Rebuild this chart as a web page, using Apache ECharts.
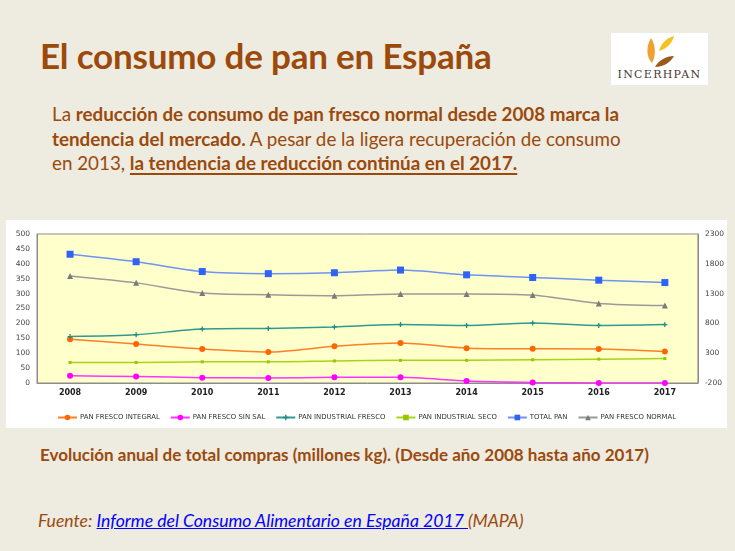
<!DOCTYPE html>
<html>
<head>
<meta charset="UTF-8">
<title>El consumo de pan en España</title>
<script src="https://cdn.jsdelivr.net/npm/echarts@6/dist/echarts.min.js"></script>
<style>
  html, body { margin: 0; padding: 0; }
  body {
    width: 735px; height: 551px; overflow: hidden; position: relative;
    background: #EEEBE1; font-family: Lato, "Open Sans", sans-serif; color: #9B4A0C;
  }
  .titulo {
    position: absolute; left: 40px; top: 34px; margin: 0;
    font-size: 35px; font-weight: bold; white-space: nowrap; letter-spacing: -0.2px;
  }
  .texto {
    position: absolute; left: 52px; top: 102px; margin: 0;
    font-size: 18.8px; line-height: 24.5px; white-space: nowrap;
  }
  .texto b { font-weight: bold; }
  .texto u { text-decoration-thickness: 1.5px; text-underline-offset: 3px; }
  .logo {
    position: absolute; left: 611px; top: 33px; width: 97px; height: 52px; background: #fff;
  }
  .logo span {
    position: absolute; left: 0; width: 97px; top: 35px; text-align: center;
    font-family: "DejaVu Serif", "Liberation Serif", serif; font-size: 11px; letter-spacing: 1.3px; color: #4a3b32;
  }
  #grafico {
    position: absolute; left: 6px; top: 220px; width: 721px; height: 208px; background: #fff;
  }
  .pie {
    position: absolute; left: 40px; top: 444px; margin: 0;
    font-size: 17px; font-weight: bold; white-space: nowrap;
  }
  .fuente {
    position: absolute; left: 38px; top: 510px; margin: 0;
    font-size: 17.6px; font-style: italic; white-space: nowrap;
  }
  .fuente a { color: #0000FF; }
</style>
</head>
<body>
  <h1 class="titulo">El consumo de pan en España</h1>
  <div class="logo">
    <svg width="97" height="36" viewBox="0 0 97 36">
      <path d="M41,30 C35,24 35,13 40,5 C45,12 45,23 41,30 Z" fill="#F0A030"/>
      <path d="M48,18 C50,10 56,5 63,3 C61,11 55,16 48,18 Z" fill="#F2C21E"/>
      <path d="M44,34 C48,27 55,23 63,23 C59,30 52,34 44,34 Z" fill="#9A5A1E"/>
    </svg>
    <span>INCERHPAN</span>
  </div>
  <p class="texto">La <b>reducción de consumo de pan fresco normal desde 2008 marca la</b><br><b>tendencia del mercado.</b> A pesar de la ligera recuperación de consumo<br>en 2013, <b><u>la tendencia de reducción continúa en el 2017.</u></b></p>
  <div id="grafico"></div>
  <p class="pie">Evolución anual de total compras (millones kg). (Desde año 2008 hasta año 2017)</p>
  <p class="fuente">Fuente: <a href="#">Informe del Consumo Alimentario en España 2017 </a>(MAPA)</p>

<script type="text/javascript">
  // datos (millones kg)
  var anios = ['2008', '2009', '2010', '2011', '2012', '2013', '2014', '2015', '2016', '2017'];
  var frescoIntegral = [147, 131, 114, 104, 123, 134, 117, 115, 114, 106];
  var frescoSinSal = [24, 22, 18, 17, 19, 19, 7, 2, 0, 0];
  var industrialFresco = [156, 162, 181, 183, 188, 196, 193, 201, 193, 196];
  var industrialSeco = [69, 69, 71, 71, 74, 76, 76, 78, 80, 82];
  // eje derecho
  var totalPan = [1960, 1835, 1670, 1635, 1650, 1695, 1615, 1570, 1525, 1485];
  var frescoNormal = [1595, 1480, 1310, 1280, 1265, 1295, 1295, 1275, 1135, 1100];
  var ticksDerecha = [-200, 300, 800, 1300, 1800, 2300];

  var plus = 'path://M3,0h2v3h3v2h-3v3h-2v-3h-3v-2h3z';

  function serie(nombre, datos, color, simbolo, tam, eje, colorSimbolo) {
    return {
      name: nombre,
      type: 'line',
      yAxisIndex: eje,
      data: datos,
      smooth: 0.25,
      symbol: simbolo,
      symbolSize: tam,
      showAllSymbol: true,
      lineStyle: { color: color, width: 1.5 },
      itemStyle: { color: colorSimbolo || color },
      emphasis: { disabled: true }
    };
  }

  var myChart = echarts.init(document.getElementById('grafico'));
  myChart.setOption({
    animation: false,
    textStyle: { fontFamily: 'DejaVu Sans' },
    grid: {
      left: 31, right: 25, top: 14, bottom: 45,
      show: true, backgroundColor: '#FFFFCC', borderColor: '#8c8c8c', borderWidth: 1
    },
    legend: {
      bottom: 2,
      left: 'center',
      itemWidth: 19,
      itemHeight: 7,
      itemGap: 10,
      textStyle: { fontSize: 6.9, color: '#333', padding: [0, 0, 0, -2] },
      data: ['PAN FRESCO INTEGRAL', 'PAN FRESCO SIN SAL', 'PAN INDUSTRIAL FRESCO',
        'PAN INDUSTRIAL SECO', 'TOTAL PAN', 'PAN FRESCO NORMAL']
    },
    xAxis: {
      type: 'category',
      boundaryGap: true,
      data: anios,
      axisLine: { lineStyle: { color: '#8c8c8c' } },
      axisTick: { show: false },
      axisLabel: { fontSize: 8, fontWeight: 'bold', color: '#222', margin: 6 }
    },
    yAxis: [{
      type: 'value',
      min: 0, max: 500, interval: 50,
      axisLine: { show: true, lineStyle: { color: '#8c8c8c' } },
      axisTick: { show: false },
      splitLine: { show: false },
      axisLabel: { fontSize: 7.5, color: '#444', margin: 7 }
    }, {
      type: 'value',
      min: -200, max: 2300,
      axisLine: { show: true, lineStyle: { color: '#8c8c8c' } },
      axisTick: { show: false, customValues: ticksDerecha },
      splitLine: { show: false },
      axisLabel: {
        fontSize: 7.5, color: '#444', margin: 7, customValues: ticksDerecha,
        formatter: function (v) { return String(v); }
      }
    }],
    series: [
      serie('PAN FRESCO INTEGRAL', frescoIntegral, '#FF7F27', 'circle', 6, 0, '#FF6600'),
      serie('PAN FRESCO SIN SAL', frescoSinSal, '#FF33FF', 'circle', 6, 0, '#FF00FF'),
      serie('PAN INDUSTRIAL FRESCO', industrialFresco, '#2E9A90', plus, 5, 0, '#1F8C80'),
      serie('PAN INDUSTRIAL SECO', industrialSeco, '#A8D418', 'rect', 3, 0, '#99C400'),
      serie('TOTAL PAN', totalPan, '#6F93F2', 'rect', 7, 1, '#2F62F5'),
      serie('PAN FRESCO NORMAL', frescoNormal, '#9A9A9A', 'triangle', 6, 1, '#7A7A7A')
    ]
  });
</script>
</body>
</html>
